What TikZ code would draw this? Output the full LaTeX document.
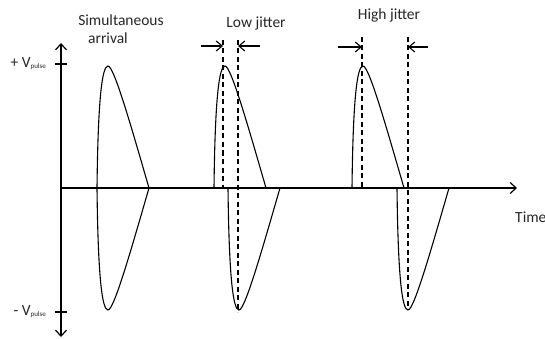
\documentclass[tikz,border=0pt]{standalone}
\usepackage{fontspec}
\setmainfont{Carlito}
\usetikzlibrary{arrows.meta,positioning,calc}
\tikzset{
  axis/.style={line width=1.3pt, draw=black},
  axisarrow/.style={axis, -{Straight Barb[length=6pt, width=11pt, line width=1.2pt]}},
  wave/.style={line width=1.1pt, draw=black},
  marker/.style={line width=1.2pt, dash pattern=on 5pt off 3.5pt, draw=black},
  jitterarrow/.style={line width=1.1pt, -{Straight Barb[length=6pt, width=10pt, line width=1.1pt]}},
  tickmark/.style={line width=1.1pt},
  txt/.style={font=\fontsize{15.5}{18}\selectfont, inner sep=0pt, text=black!85},
}
\newcommand{\subpulse}{\raisebox{-1pt}{\fontsize{7}{8}\selectfont pulse}}

\begin{document}
\begin{tikzpicture}[x=1pt, y=-1pt]
\useasboundingbox (0,0) rectangle (545,339);

% ================= axes =================
\coordinate (O) at (61,188);
\coordinate (ytop) at (61,43);
\coordinate (ybot) at (61,337);
\coordinate (xend) at (517,188);
\draw[axisarrow] (O) -- (ytop);
\draw[axisarrow] (O) -- (ybot);
\draw[axisarrow] (O) -- (xend);

\draw[tickmark] (55,64) -- (67,64);
\draw[tickmark] (55,312) -- (67,312);
\node[txt, anchor=east] (vpos) at (46,64) {+ V\subpulse};
\node[txt, anchor=east] (vneg) at (46,312) {- V\subpulse};
\node[txt, anchor=west] (time) at (515,217) {Time};

% ================= pulses =================
% start of each lobe / +1 up, -1 down
\foreach \s/\d in {97/1, 214/1, 352/1, 97/-1, 228/-1, 397/-1}{
  \begin{scope}[shift={(\s,188)}, yscale=\d]
    \draw[wave] (0,0) .. controls (1,-88) and (5,-122) .. (11,-122)
                .. controls (17,-122) and (34,-62) .. (52,0);
  \end{scope}
}

% ================= jitter markers =================
\coordinate (lowA) at (223,40);
\coordinate (lowB) at (238,40);
\coordinate (highA) at (362,37);
\coordinate (highB) at (408,37);
\draw[marker] (lowA) -- (223,187);
\draw[marker] (lowB) -- (238,312);
\draw[marker] (highA) -- (362,187);
\draw[marker] (highB) -- (408,310);

\coordinate (lowAt) at (223,46);
\coordinate (lowBt) at (238,46);
\coordinate (highAt) at (362,47);
\coordinate (highBt) at (408,47);
\draw[jitterarrow] (201,46) -- (lowAt);
\draw[jitterarrow] (260,46) -- (lowBt);
\draw[jitterarrow] (338,47) -- (highAt);
\draw[jitterarrow] (428,47) -- (highBt);

% ================= labels =================
\node[txt] (simul) at (121,20) {Simultaneous};
\node[txt] (arrival) at (108,38) {arrival};
\node[txt] (low) at (256,23) {Low jitter};
\node[txt] (high) at (389,15) {High jitter};
\end{tikzpicture}
\end{document}
